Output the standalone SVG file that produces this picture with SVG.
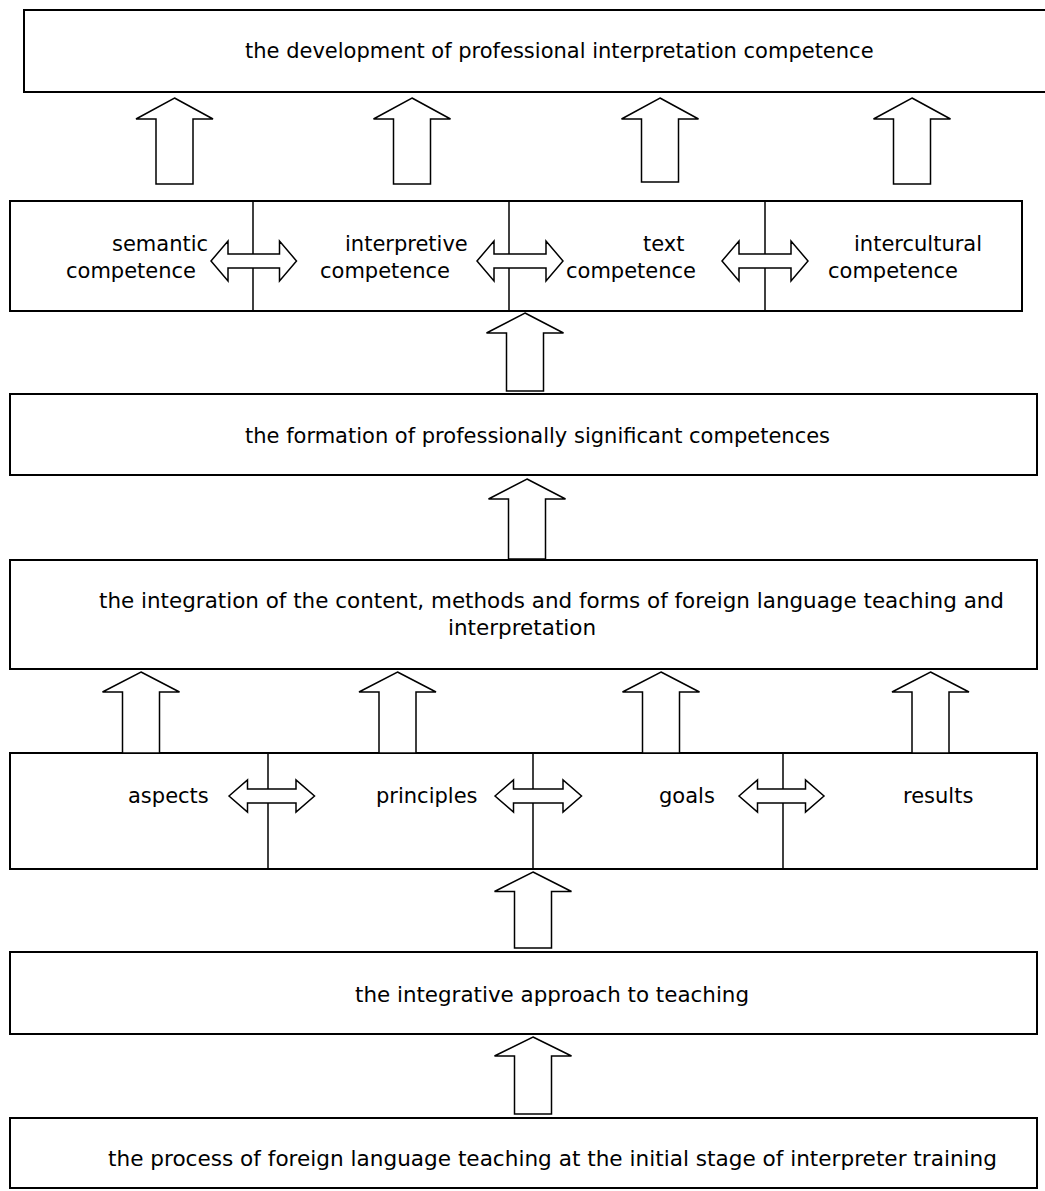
<svg xmlns="http://www.w3.org/2000/svg" width="1045" height="1191" viewBox="0 0 1045 1191">
<style>
.box{fill:#fff;stroke:#000;stroke-width:2}
.div{stroke:#000;stroke-width:1.5;fill:none}
.arr{fill:#fff;stroke:#000;stroke-width:1.5;stroke-linejoin:miter}
text{font-family:"DejaVu Sans","Liberation Sans",sans-serif;font-size:21px;fill:#000}
.w{font-size:21.5px}
</style>
<rect width="1045" height="1191" fill="#fff"/>
<g id="n-development">
<rect class="box" x="24" y="10" width="1030" height="82"/>
<text x="245" y="58">the development of professional interpretation competence</text>
</g>
<g id="n-competences">
<rect class="box" x="10" y="201" width="1012" height="110"/>
<line class="div" x1="253" y1="201" x2="253" y2="311"/>
<line class="div" x1="509" y1="201" x2="509" y2="311"/>
<line class="div" x1="765" y1="201" x2="765" y2="311"/>
<text x="112" y="251">semantic</text>
<text x="66" y="278">competence</text>
<text x="345" y="251">interpretive</text>
<text x="320" y="278">competence</text>
<text x="643" y="251">text</text>
<text x="566" y="278">competence</text>
<text x="854" y="251">intercultural</text>
<text x="828" y="278">competence</text>
</g>
<g id="n-formation">
<rect class="box" x="10" y="394" width="1027" height="81"/>
<text x="245" y="443">the formation of professionally significant competences</text>
</g>
<g id="n-integration">
<rect class="box" x="10" y="560" width="1027" height="109"/>
<text class="w" x="99" y="608" textLength="905" lengthAdjust="spacingAndGlyphs">the integration of the content, methods and forms of foreign language teaching and</text>
<text class="w" x="448" y="635">interpretation</text>
</g>
<g id="n-aspects">
<rect class="box" x="10" y="753" width="1027" height="116"/>
<line class="div" x1="268" y1="753" x2="268" y2="869"/>
<line class="div" x1="533" y1="753" x2="533" y2="869"/>
<line class="div" x1="783" y1="753" x2="783" y2="869"/>
<text x="128" y="803">aspects</text>
<text x="376" y="803">principles</text>
<text x="659" y="803">goals</text>
<text x="903" y="803">results</text>
</g>
<g id="n-approach">
<rect class="box" x="10" y="952" width="1027" height="82"/>
<text class="w" x="355" y="1002" textLength="394" lengthAdjust="spacingAndGlyphs">the integrative approach to teaching</text>
</g>
<g id="n-process">
<rect class="box" x="10" y="1118" width="1027" height="70"/>
<text class="w" x="108" y="1166" textLength="889" lengthAdjust="spacingAndGlyphs">the process of foreign language teaching at the initial stage of interpreter training</text>
</g>
<g id="connectors">
<path class="arr" d="M174.5,98 L213,119 L193,119 L193,184 L156,184 L156,119 L136,119 Z"/>
<path class="arr" d="M412,98 L450.5,119 L430.5,119 L430.5,184 L393.5,184 L393.5,119 L373.5,119 Z"/>
<path class="arr" d="M660,98 L698.5,119 L678.5,119 L678.5,182 L641.5,182 L641.5,119 L621.5,119 Z"/>
<path class="arr" d="M912,98 L950.5,119 L930.5,119 L930.5,184 L893.5,184 L893.5,119 L873.5,119 Z"/>
<path class="arr" d="M211,261 L228,241 L228,254 L279.5,254 L279.5,241 L296.5,261 L279.5,281 L279.5,268 L228,268 L228,281 Z"/>
<path class="arr" d="M477,261 L494,241 L494,254 L546,254 L546,241 L563,261 L546,281 L546,268 L494,268 L494,281 Z"/>
<path class="arr" d="M722,261 L739,241 L739,254 L791,254 L791,241 L808,261 L791,281 L791,268 L739,268 L739,281 Z"/>
<path class="arr" d="M525,313 L563.5,333 L543.5,333 L543.5,391 L506.5,391 L506.5,333 L486.5,333 Z"/>
<path class="arr" d="M527,479 L565.5,499 L545.5,499 L545.5,559 L508.5,559 L508.5,499 L488.5,499 Z"/>
<path class="arr" d="M141,672 L179.5,692 L159.5,692 L159.5,753 L122.5,753 L122.5,692 L102.5,692 Z"/>
<path class="arr" d="M397.5,672 L436,692 L416,692 L416,753 L379,753 L379,692 L359,692 Z"/>
<path class="arr" d="M661,672 L699.5,692 L679.5,692 L679.5,753 L642.5,753 L642.5,692 L622.5,692 Z"/>
<path class="arr" d="M930.5,672 L969,692 L949,692 L949,753 L912,753 L912,692 L892,692 Z"/>
<path class="arr" d="M229,796 L247.5,780 L247.5,789 L296,789 L296,780 L314.5,796 L296,812 L296,803 L247.5,803 L247.5,812 Z"/>
<path class="arr" d="M495,796 L513.5,780 L513.5,789 L563,789 L563,780 L581.5,796 L563,812 L563,803 L513.5,803 L513.5,812 Z"/>
<path class="arr" d="M739,796 L757.5,780 L757.5,789 L805.5,789 L805.5,780 L824,796 L805.5,812 L805.5,803 L757.5,803 L757.5,812 Z"/>
<path class="arr" d="M533,872 L571.5,891.5 L551.5,891.5 L551.5,948 L514.5,948 L514.5,891.5 L494.5,891.5 Z"/>
<path class="arr" d="M533,1037 L571.5,1056 L551.5,1056 L551.5,1114 L514.5,1114 L514.5,1056 L494.5,1056 Z"/>
</g>
</svg>
